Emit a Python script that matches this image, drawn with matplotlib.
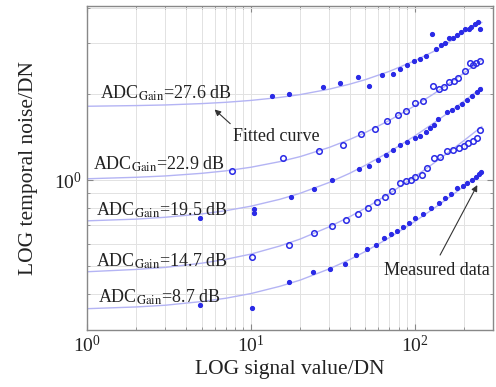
import matplotlib
matplotlib.use("Agg")
import matplotlib.pyplot as plt
from matplotlib.ticker import LogLocator, NullFormatter

plt.rcParams['font.family'] = ['Liberation Serif', 'DejaVu Serif']
plt.rcParams['mathtext.fontset'] = 'stix'

# ---- measured data ----
x_276 = [13.5, 17.0, 27.7, 35.0, 45.2, 52.5, 62.8, 73.5, 81.1, 89.8, 99.5, 106.8, 117.2, 127.4,
         135.5, 145.3, 153.7, 162.5, 170.9, 180.7, 192.2, 201.4, 212.8, 221.3, 231.6, 242.6, 250.8]
y_276 = [1.96, 2.00, 2.11, 2.18, 2.29, 2.13, 2.32, 2.35, 2.45, 2.53, 2.60, 2.64, 2.72, 3.23,
         2.86, 2.95, 3.02, 3.12, 3.14, 3.20, 3.29, 3.38, 3.36, 3.43, 3.50, 3.55, 3.38]

x_229 = [7.69, 15.8, 26.1, 36.5, 46.8, 57.1, 67.6, 78.8, 88.5, 100.0, 111.9, 129.2, 139.9,
         150.0, 162.5, 172.7, 183.3, 203.3, 216.0, 225.2, 237.2, 250.8]
y_229 = [1.078, 1.197, 1.267, 1.327, 1.453, 1.510, 1.607, 1.690, 1.738, 1.858, 1.893, 2.137, 2.080,
         2.114, 2.195, 2.225, 2.274, 2.412, 2.566, 2.518, 2.566, 2.601]

x_195 = [4.86, 10.5, 10.5, 17.5, 24.4, 31.4, 45.7, 52.5, 59.6, 66.3, 73.8, 81.1, 89.8, 100.9,
         108.3, 116.2, 124.5, 130.5, 138.6, 157.3, 168.7, 180.8, 194.0, 208.0, 222.9, 239.1, 250.8]
y_195 = [0.736, 0.791, 0.766, 0.870, 0.928, 1.000, 1.093, 1.122, 1.175, 1.224, 1.274, 1.324, 1.362, 1.400,
         1.430, 1.477, 1.526, 1.560, 1.633, 1.722, 1.760, 1.799, 1.844, 1.909, 1.959, 2.024, 2.081]

x_147 = [10.2, 17.1, 24.1, 31.2, 37.9, 44.9, 52.0, 58.7, 65.7, 72.8, 80.7, 87.8, 94.2, 100.9,
         109.9, 118.8, 130.5, 143.3, 157.1, 170.2, 185.1, 198.4, 210.9, 225.2, 239.1, 250.8]
y_147 = [0.541, 0.592, 0.653, 0.691, 0.724, 0.762, 0.802, 0.842, 0.874, 0.917, 0.974, 0.994, 1.000, 1.027,
         1.041, 1.099, 1.191, 1.201, 1.264, 1.274, 1.292, 1.319, 1.345, 1.370, 1.407, 1.497]

x_87 = [4.86, 10.2, 17.0, 23.8, 30.4, 37.4, 44.0, 50.9, 57.7, 64.8, 71.8, 78.0, 84.9, 92.0, 100.9,
        111.9, 126.3, 139.9, 153.7, 167.2, 180.8, 195.8, 208.0, 222.9, 235.8, 247.3, 254.3]
y_87 = [0.367, 0.359, 0.440, 0.477, 0.490, 0.510, 0.550, 0.574, 0.595, 0.630, 0.647, 0.664, 0.686, 0.708, 0.736,
        0.764, 0.800, 0.829, 0.867, 0.898, 0.940, 0.955, 0.974, 1.000, 1.027, 1.047, 1.069]

# ---- fitted curves ----
x_fit = [1, 2, 3, 5, 7, 10, 15, 20, 30, 40, 50, 70, 100, 130, 160, 200, 256]
fit_276 = [1.810, 1.820, 1.829, 1.849, 1.868, 1.897, 1.943, 1.988, 2.076, 2.161, 2.242, 2.396, 2.610, 2.810, 3.020, 3.280, 3.550]
fit_229 = [1.011, 1.023, 1.034, 1.056, 1.077, 1.109, 1.160, 1.208, 1.300, 1.386, 1.466, 1.616, 1.817, 1.997, 2.163, 2.366, 2.622]
fit_195 = [0.721, 0.731, 0.742, 0.762, 0.782, 0.811, 0.857, 0.900, 0.981, 1.056, 1.127, 1.255, 1.426, 1.579, 1.718, 1.888, 2.103]
fit_147 = [0.479, 0.488, 0.496, 0.513, 0.529, 0.552, 0.589, 0.623, 0.687, 0.745, 0.799, 0.898, 1.028, 1.144, 1.249, 1.376, 1.537]
fit_87 = [0.356, 0.361, 0.366, 0.377, 0.387, 0.402, 0.426, 0.448, 0.490, 0.528, 0.564, 0.630, 0.717, 0.795, 0.866, 0.952, 1.061]

labels = [r'ADC$_{\mathrm{Gain}}$=27.6 dB', r'ADC$_{\mathrm{Gain}}$=22.9 dB', r'ADC$_{\mathrm{Gain}}$=19.5 dB',
          r'ADC$_{\mathrm{Gain}}$=14.7 dB', r'ADC$_{\mathrm{Gain}}$=8.7 dB']
label_x = [1.20, 1.09, 1.13, 1.13, 1.16]
label_y = [1.92, 1.084, 0.754, 0.499, 0.373]

series = [(x_276, y_276, fit_276, '.'), (x_229, y_229, fit_229, 'o'), (x_195, y_195, fit_195, '.'),
          (x_147, y_147, fit_147, 'o'), (x_87, y_87, fit_87, '.')]

fig = plt.figure(figsize=(4.96, 3.87), dpi=100)
ax = fig.add_axes([0.1754, 0.1473, 0.8186, 0.8372])
ax.set_xscale('log')
ax.set_yscale('log')

line_c = '#b4b4f4'
mark_c = '#2a2ae6'
for xs, ys, fs, m in series:
    ax.plot(x_fit, fs, '-', color=line_c, lw=1.0, zorder=2)
    if m == '.':
        ax.plot(xs, ys, '.', color=mark_c, ms=5.5, zorder=3)
    else:
        ax.plot(xs, ys, 'o', mfc='none', mec=mark_c, ms=4.0, mew=1.1, zorder=3)

for t, lx, ly in zip(labels, label_x, label_y):
    ax.text(lx, ly, t, fontsize=13, ha='left', va='baseline', color='#222222', zorder=4)

ax.annotate('', xy=(5.83, 1.79), xytext=(7.7, 1.55),
            arrowprops=dict(arrowstyle='-|>', color='#333333', lw=0.8, mutation_scale=9))
ax.text(14.3, 1.416, 'Fitted curve', fontsize=13, ha='center', va='center', color='#222222')
ax.annotate('', xy=(245, 0.98), xytext=(140, 0.537),
            arrowprops=dict(arrowstyle='-|>', color='#333333', lw=0.8, mutation_scale=9))
ax.text(136, 0.483, 'Measured data', fontsize=13, ha='center', va='center', color='#222222')

ax.set_xlim(1, 300)
ax.set_ylim(0.3, 4.05)
ax.xaxis.set_major_locator(LogLocator(base=10, numticks=10))
ax.yaxis.set_major_locator(LogLocator(base=10, numticks=10))
ax.yaxis.set_minor_formatter(NullFormatter())
ax.xaxis.set_minor_formatter(NullFormatter())
ax.grid(True, which='both', color='#e2e2e2', lw=0.7, ls='-')
ax.set_axisbelow(True)
ax.tick_params(which='both', direction='in', top=True, right=True, colors='#888888',
               labelcolor='#222222', labelsize=14)
ax.tick_params(which='major', length=4)
ax.tick_params(which='minor', length=2)
for s in ax.spines.values():
    s.set_color('#888888')
    s.set_linewidth(1.0)

ax.set_xlabel('LOG signal value/DN', fontsize=15.5, color='#222222', labelpad=3)
ax.set_ylabel('LOG temporal noise/DN', fontsize=15.5, color='#222222', labelpad=12)

fig.savefig('out.png', dpi=100)
